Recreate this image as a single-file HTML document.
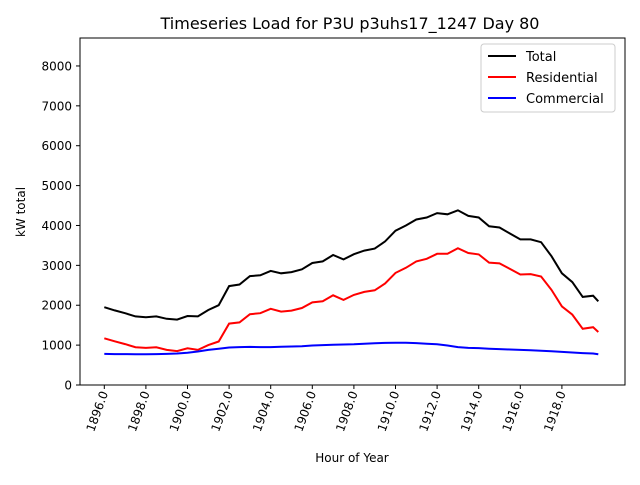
<!DOCTYPE html>
<html><head><meta charset="utf-8"><style>
body{margin:0;background:#fff}
svg{font-family:"DejaVu Sans","Liberation Sans",sans-serif}
</style></head><body>
<svg id="chart" width="640" height="480">
<rect width="640" height="480" fill="#fff"/>
<text x="350" y="29" font-size="16" text-anchor="middle">Timeseries Load for P3U p3uhs17_1247  Day 80</text>
<g id="yticks"></g><g id="xticks"></g><g id="lines"></g>
<rect x="80" y="38" width="545" height="347" fill="none" stroke="#000" stroke-width="1"/>
<text x="352" y="462" font-size="12" text-anchor="middle">Hour of Year</text>
<text transform="translate(25,212) rotate(-90)" font-size="12" text-anchor="middle">kW total</text>
<g>
<rect x="481" y="44" width="134" height="68" fill="#fff" stroke="#ccc" rx="3"/>
<line x1="488" y1="56" x2="516" y2="56" stroke="#000" stroke-width="2"/>
<text x="526" y="61" font-size="13">Total</text>
<line x1="488" y1="77" x2="516" y2="77" stroke="#f00" stroke-width="2"/>
<text x="526" y="82" font-size="13">Residential</text>
<line x1="488" y1="98" x2="516" y2="98" stroke="#00f" stroke-width="2"/>
<text x="526" y="103" font-size="13">Commercial</text>
</g>
</svg>
<script>
const hours=[1896,1896.5,1897,1897.5,1898,1898.5,1899,1899.5,1900,1900.5,1901,1901.5,1902,1902.5,1903,1903.5,1904,1904.5,1905,1905.5,1906,1906.5,1907,1907.5,1908,1908.5,1909,1909.5,1910,1910.5,1911,1911.5,1912,1912.5,1913,1913.5,1914,1914.5,1915,1915.5,1916,1916.5,1917,1917.5,1918,1918.5,1919,1919.5,1919.75];
const total=[1950,1870,1800,1720,1700,1720,1660,1640,1730,1720,1880,2000,2480,2520,2730,2750,2860,2800,2830,2900,3060,3100,3260,3150,3280,3370,3420,3600,3870,4000,4150,4200,4310,4280,4380,4240,4200,3980,3950,3800,3650,3650,3580,3230,2800,2580,2210,2240,2100];
const residential=[1170,1095,1025,948,930,945,880,850,920,880,1000,1090,1540,1570,1775,1800,1910,1840,1865,1930,2070,2100,2250,2135,2260,2335,2375,2545,2810,2940,3100,3165,3290,3290,3430,3310,3275,3070,3050,2910,2770,2780,2720,2385,1970,1765,1410,1450,1330];
const commercial=[780,775,775,772,770,775,780,790,810,840,880,910,940,950,955,950,950,960,965,970,990,1000,1010,1015,1020,1035,1045,1055,1060,1060,1050,1035,1020,990,950,930,925,910,900,890,880,870,860,845,830,815,800,790,770];
const yTicks=[0,1000,2000,3000,4000,5000,6000,7000,8000];
const xTicks=[1896,1898,1900,1902,1904,1906,1908,1910,1912,1914,1916,1918];
const NS="http://www.w3.org/2000/svg";
const X=h=>104.3+(h-1896)*20.8;
const Y=v=>385-v*0.03988;
const yg=document.getElementById('yticks'),xg=document.getElementById('xticks'),lg=document.getElementById('lines');
yTicks.forEach(v=>{
 const l=document.createElementNS(NS,'line');
 l.setAttribute('x1',76);l.setAttribute('x2',80);l.setAttribute('y1',Y(v));l.setAttribute('y2',Y(v));l.setAttribute('stroke','#000');
 
 
 yg.appendChild(l);
 const t=document.createElementNS(NS,'text');
 t.setAttribute('x',72);t.setAttribute('y',Y(v)+4.5);t.setAttribute('font-size','12');t.setAttribute('text-anchor','end');t.textContent=v;
 
 
 yg.appendChild(t);
});
xTicks.forEach(h=>{
 const l=document.createElementNS(NS,'line');
 l.setAttribute('x1',X(h));l.setAttribute('x2',X(h));l.setAttribute('y1',385);l.setAttribute('y2',389);l.setAttribute('stroke','#000');
 
 
 xg.appendChild(l);
 const t=document.createElementNS(NS,'text');
 t.setAttribute('transform','translate('+(X(h)+4)+',393) rotate(-70)');t.setAttribute('font-size','12');t.setAttribute('text-anchor','end');t.textContent=h.toFixed(1);
 
 
 xg.appendChild(t);
});
function line(arr,color,name){
 const p=document.createElementNS(NS,'polyline');
 p.setAttribute('points',arr.map((v,i)=>X(hours[i]).toFixed(1)+','+Y(v).toFixed(1)).join(' '));
 p.setAttribute('fill','none');p.setAttribute('stroke',color);p.setAttribute('stroke-width','2');
 
 
 lg.appendChild(p);
}
line(total,'#000','total-line');
line(residential,'#f00','residential-line');
line(commercial,'#00f','commercial-line');
</script>
</body></html>
